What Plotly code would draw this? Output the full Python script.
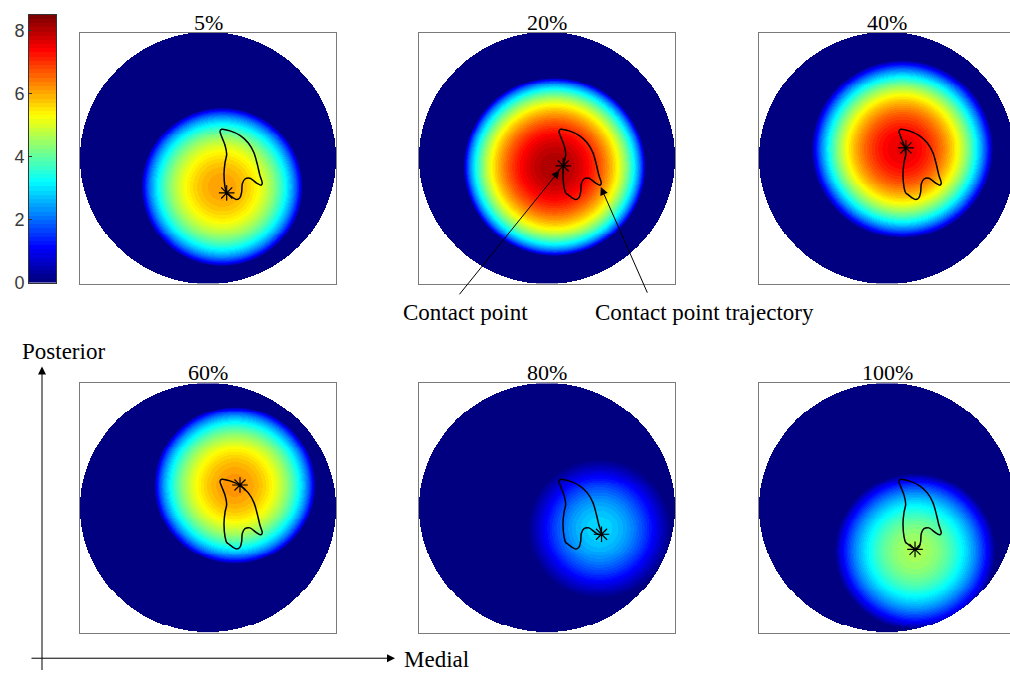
import numpy as np
import plotly.graph_objects as go

# ---- data -------------------------------------------------------------
# Panel labels (percent of the loading cycle)
phases = ["5%", "20%", "40%", "60%", "80%", "100%"]

# Contact pressure patch per phase: peak value, centre (normalised disk
# coordinates, +x = medial, +y = posterior), contact radius and edge shape
peak_pressure = [6.1, 8.1, 7.6, 6.2, 2.9, 4.6]
patch_cx = [0.11, 0.06, 0.12, 0.21, 0.41, 0.22]
patch_cy = [-0.23, -0.07, 0.07, 0.18, -0.17, -0.35]
contact_radius = [0.63, 0.71, 0.71, 0.63, 0.58, 0.63]
edge_exponent = [0.65, 0.65, 0.8, 0.65, 1.3, 0.9]

# Contact point of each phase
contact_x = [0.146, 0.127, 0.148, 0.250, 0.426, 0.219]
contact_y = [-0.277, -0.061, 0.082, 0.184, -0.211, -0.332]

# Contact point trajectory over the whole cycle
traj_x = [0.146, 0.133, 0.125, 0.133, 0.146, 0.133, 0.109, 0.094, 0.107,
          0.172, 0.250, 0.315, 0.359, 0.385, 0.406, 0.424, 0.414, 0.380,
          0.328, 0.289, 0.268, 0.263, 0.250, 0.224, 0.193, 0.159, 0.146]
traj_y = [-0.277, -0.230, -0.127, -0.035, 0.030, 0.103, 0.166, 0.213, 0.230,
          0.217, 0.181, 0.121, 0.043, -0.048, -0.139, -0.199, -0.215, -0.199,
          -0.160, -0.166, -0.205, -0.270, -0.314, -0.330, -0.314, -0.287, -0.277]

# Colour scale
c_min, c_max = 0.0, 8.5
cbar_ticks = [0, 2, 4, 6, 8]
n_levels = 64

# ---- colour map (64-step jet) ----------------------------------------
def jet(t):
    r = np.clip(1.5 - abs(4 * t - 3), 0, 1)
    g = np.clip(1.5 - abs(4 * t - 2), 0, 1)
    b = np.clip(1.5 - abs(4 * t - 1), 0, 1)
    return "rgb(%d,%d,%d)" % (round(r * 255), round(g * 255), round(b * 255))

colorscale = []
for i in range(n_levels):
    c = jet(i / (n_levels - 1))
    colorscale.append([i / n_levels, c])
    colorscale.append([(i + 1) / n_levels, c])

# ---- layout geometry (pixels) -----------------------------------------
W, H = 1010, 683
col_px = [(80, 336), (419, 675), (759, 1010)]
row_px = [(33, 288), (389, 642)]
PANEL_W = 256

def px_dom_x(a, b):
    return [a / W, min(b / W, 1.0)]

def px_dom_y(top, bottom):
    return [1 - bottom / H, 1 - top / H]

# ---- grid for the tibial disk ------------------------------------------
N = 256
g = np.linspace(-1 + 1 / N, 1 - 1 / N, N)
X, Y = np.meshgrid(g, g)
outside = X ** 2 + Y ** 2 > 1.0

fig = go.Figure()
serif = "Liberation Serif"
sans = "Liberation Sans"
annotations = []

for k in range(6):
    row, col = divmod(k, 3)
    ax_id = "" if k == 0 else str(k + 1)
    xa, ya = "x" + ax_id, "y" + ax_id

    # Hertz-like pressure patch, zero outside the contact radius
    rho = np.hypot(X - patch_cx[k], Y - patch_cy[k]) / contact_radius[k]
    z = peak_pressure[k] * np.clip(1 - rho ** 2, 0, None) ** edge_exponent[k]
    z[outside] = np.nan

    fig.add_trace(go.Heatmap(x=g, y=g, z=z, coloraxis="coloraxis",
                             zsmooth=False, hoverinfo="skip",
                             xaxis=xa, yaxis=ya))
    fig.add_trace(go.Scatter(x=traj_x, y=traj_y, mode="lines",
                             line=dict(color="black", width=1.5, shape="spline",
                                       smoothing=0.8),
                             hoverinfo="skip", xaxis=xa, yaxis=ya))
    fig.add_trace(go.Scatter(x=[contact_x[k]], y=[contact_y[k]], mode="markers",
                             marker=dict(symbol="asterisk-open", size=13, color="black",
                                         line=dict(color="black", width=1.2)),
                             hoverinfo="skip", xaxis=xa, yaxis=ya))

    x0, x1 = col_px[col]
    y0, y1 = row_px[row]
    x_hi = -1 + 2 * (x1 - x0) / PANEL_W
    last_col = col == 2
    fig.layout["xaxis" + ax_id] = dict(
        domain=px_dom_x(x0, x1), range=[-1, x_hi], anchor=ya,
        showgrid=False, zeroline=False, showticklabels=False, ticks="",
        showline=True, mirror=True, linecolor="#7a7a7a", linewidth=1)
    fig.layout["yaxis" + ax_id] = dict(
        domain=px_dom_y(y0, y1), range=[-1, 1], anchor=xa,
        showgrid=False, zeroline=False, showticklabels=False, ticks="",
        showline=True, mirror=not last_col, linecolor="#7a7a7a", linewidth=1)

    annotations.append(dict(text=phases[k], xref=xa + " domain", yref=ya + " domain",
                            x=0.5 * PANEL_W / (x1 - x0), y=1, xanchor="center",
                            yanchor="bottom", showarrow=False, yshift=-4,
                            font=dict(family=serif, size=22, color="black")))

# ---- colour bar drawn as its own small heatmap -----------------------
edges = np.linspace(c_min, c_max, n_levels + 1)
centers = 0.5 * (edges[:-1] + edges[1:])
fig.add_trace(go.Heatmap(x=[0], y=centers, z=[[v] for v in centers],
                         coloraxis="coloraxis", hoverinfo="skip",
                         xaxis="x7", yaxis="y7"))
fig.layout["xaxis7"] = dict(domain=px_dom_x(29, 56), range=[-0.5, 0.5], anchor="y7",
                            showgrid=False, zeroline=False, showticklabels=False,
                            ticks="", showline=True, mirror=True,
                            linecolor="#333333", linewidth=0.8)
fig.layout["yaxis7"] = dict(domain=px_dom_y(15, 287), range=[c_min, c_max], anchor="x7",
                            tickvals=cbar_ticks, ticks="inside", ticklen=3,
                            tickcolor="#333333", showgrid=False, zeroline=False,
                            showline=True, mirror=True, linecolor="#333333",
                            linewidth=0.8,
                            tickfont=dict(family=sans, size=18, color="#3a3a3a"))

# ---- callouts -----------------------------------------------------------
arrow_style = dict(showarrow=True, arrowhead=2, arrowsize=1.6, arrowwidth=1,
                   arrowcolor="black", text="")
annotations.append(dict(xref="x2", yref="y2", x=contact_x[1], y=contact_y[1],
                        ax=-105, ay=130, standoff=6, **arrow_style))
annotations.append(dict(xref="x2", yref="y2", x=traj_x[16], y=traj_y[16],
                        ax=48, ay=109, standoff=2, **arrow_style))

label_font = dict(family=serif, size=23, color="black")
annotations.append(dict(text="Contact point", xref="paper", yref="paper",
                        x=465 / W, y=1 - 317 / H, xanchor="center", yanchor="middle",
                        showarrow=False, font=label_font))
annotations.append(dict(text="Contact point trajectory", xref="paper", yref="paper",
                        x=704 / W, y=1 - 317 / H, xanchor="center", yanchor="middle",
                        showarrow=False, font=label_font))

# anatomical direction arrows
annotations.append(dict(xref="paper", yref="paper", x=42 / W, y=1 - 372 / H,
                        ax=0, ay=305, standoff=0, **arrow_style))
annotations.append(dict(xref="paper", yref="paper", x=395 / W, y=1 - 668 / H,
                        ax=-365, ay=0, standoff=0, **arrow_style))
annotations.append(dict(text="Posterior", xref="paper", yref="paper",
                        x=63 / W, y=1 - 357 / H, xanchor="center", yanchor="middle",
                        showarrow=False, font=label_font))
annotations.append(dict(text="Medial", xref="paper", yref="paper",
                        x=436 / W, y=1 - 669 / H, xanchor="center", yanchor="middle",
                        showarrow=False, font=label_font))

fig.update_layout(
    width=W, height=H, margin=dict(l=0, r=0, t=0, b=0),
    paper_bgcolor="white", plot_bgcolor="white", showlegend=False,
    coloraxis=dict(colorscale=colorscale, cmin=c_min, cmax=c_max, showscale=False),
    annotations=annotations,
)

fig.write_html("out.html")
